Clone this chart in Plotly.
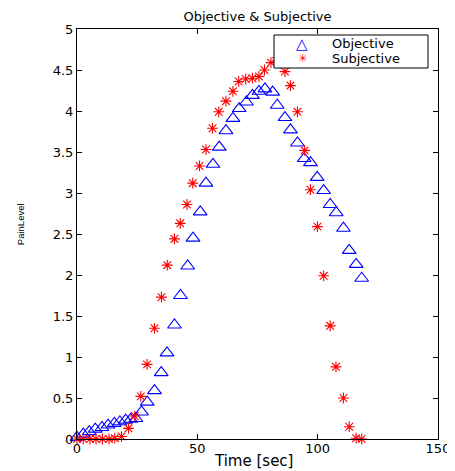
import plotly.graph_objects as go

# Objective series (time [sec], pain level)
obj_time = [0, 2.6, 5.1, 7.6, 10.4, 12.9, 15.5, 17.8, 20.2, 22.3, 24.5, 26.8,
            29.2, 32.2, 35.0, 37.4, 40.5, 43.0, 46.0, 48.2, 51.2, 53.6, 56.5,
            59.1, 61.9, 64.8, 67.4, 70.4, 72.9, 75.6, 78.1, 81.3, 83.2, 86.4,
            88.7, 91.6, 94.4, 97.0, 99.8, 102.5, 105.2, 107.7, 110.7, 113.1,
            116.0, 118.3]
obj_level = [0.02, 0.06, 0.09, 0.12, 0.14, 0.17, 0.19, 0.21, 0.23, 0.24, 0.25,
             0.33, 0.45, 0.59, 0.81, 1.05, 1.39, 1.75, 2.11, 2.45, 2.77, 3.12,
             3.35, 3.56, 3.76, 3.91, 4.03, 4.11, 4.19, 4.24, 4.27, 4.23, 4.07,
             3.92, 3.77, 3.61, 3.42, 3.37, 3.19, 3.03, 2.86, 2.76, 2.57, 2.30,
             2.13, 1.96]

# Subjective series
subj_time = [0, 2.6, 5.4, 7.9, 10.6, 13.3, 15.7, 18.5, 21.4, 24.0, 26.5, 29.1,
             32.2, 35.1, 37.5, 40.5, 42.9, 45.7, 48.1, 50.9, 53.6, 56.3, 58.9,
             61.9, 64.8, 67.2, 70.1, 72.9, 75.6, 77.9, 80.6, 83.3, 86.4, 88.7,
             91.6, 94.6, 97.0, 99.9, 102.5, 105.2, 107.6, 110.7, 113.1, 116.0,
             118.3]
subj_level = [0, 0, 0, 0, 0, 0, 0.01, 0.03, 0.13, 0.28, 0.52, 0.91, 1.35, 1.73,
              2.12, 2.44, 2.63, 2.86, 3.12, 3.33, 3.53, 3.79, 3.99, 4.12, 4.24,
              4.36, 4.39, 4.40, 4.42, 4.50, 4.59, 4.65, 4.48, 4.31, 3.99, 3.52,
              3.04, 2.59, 1.99, 1.38, 0.88, 0.50, 0.15, 0.01, 0.0]

x_ticks = [0, 50, 100, 150]
y_ticks = [0, 0.5, 1, 1.5, 2, 2.5, 3, 3.5, 4, 4.5, 5]
y_tick_labels = ["0", "0.5", "1", "1.5", "2", "2.5", "3", "3.5", "4", "4.5", "5"]
series_names = ["Objective", "Subjective"]

FONT = "DejaVu Sans"
OBJ_COLOR = "#0000FF"
SUBJ_COLOR = "#FF0000"

# page body has an 8px margin, so the figure is sized to the visible area
W, H = 447, 463
ML, MR, MT, MB = 69, 17, 21, 32
PW = W - ML - MR
PH = H - MT - MB

fig = go.Figure()
fig.add_trace(go.Scatter(
    x=obj_time, y=obj_level, mode="markers", name=series_names[0],
    marker=dict(symbol="triangle-up-open", size=12, color=OBJ_COLOR,
                line=dict(color=OBJ_COLOR, width=1.1)),
    cliponaxis=False, showlegend=False,
))
fig.add_trace(go.Scatter(
    x=subj_time, y=subj_level, mode="markers", name=series_names[1],
    marker=dict(symbol="asterisk-open", size=9, color=SUBJ_COLOR,
                line=dict(color=SUBJ_COLOR, width=1.1)),
    cliponaxis=False, showlegend=False,
))

axis_common = dict(
    showgrid=False, zeroline=False, showline=True, linecolor="black",
    linewidth=1, mirror="ticks", ticks="inside", ticklen=5, tickwidth=1,
    tickcolor="black", tickfont=dict(family=FONT, size=13, color="black"),
    automargin=False,
)

# legend box (MATLAB style, drawn in paper coordinates)
lg_x0, lg_x1 = 197 / PW, 351 / PW
lg_y1, lg_y0 = 1 - 6 / PH, 1 - 39 / PH
row_y = [1 - 14.5 / PH, 1 - 30 / PH]
sym_x = 225 / PW
txt_x = 253 / PW

annotations = [
    dict(text="Time [sec]", xref="paper", yref="paper",
         x=0.49, y=-22 / PH, xanchor="center", yanchor="middle",
         showarrow=False, font=dict(family=FONT, size=15, color="black")),
    dict(text="PainLevel", xref="paper", yref="paper",
         x=-57 / PW, y=0.524, xanchor="center", yanchor="middle",
         textangle=-90, showarrow=False,
         font=dict(family="Liberation Sans", size=9.5, color="black")),
    dict(text="\u25B3", xref="paper", yref="paper", x=sym_x, y=row_y[0],
         xanchor="center", yanchor="middle", showarrow=False,
         font=dict(family=FONT, size=15, color=OBJ_COLOR)),
    dict(text="\u2733", xref="paper", yref="paper", x=sym_x, y=row_y[1],
         xanchor="center", yanchor="middle", showarrow=False,
         font=dict(family=FONT, size=11, color=SUBJ_COLOR)),
    dict(text=series_names[0], xref="paper", yref="paper", x=txt_x,
         y=row_y[0], xanchor="left", yanchor="middle", showarrow=False,
         font=dict(family=FONT, size=13, color="black")),
    dict(text=series_names[1], xref="paper", yref="paper", x=txt_x,
         y=row_y[1], xanchor="left", yanchor="middle", showarrow=False,
         font=dict(family=FONT, size=13, color="black")),
]

fig.update_layout(
    width=W, height=H,
    paper_bgcolor="white", plot_bgcolor="white",
    margin=dict(l=ML, r=MR, t=MT, b=MB, autoexpand=False),
    title=dict(text="Objective & Subjective", x=0.5, xref="paper",
               y=1 - 8.5 / H, yanchor="middle", xanchor="center",
               font=dict(family=FONT, size=13, color="black")),
    xaxis=dict(range=[0, 150], tickvals=x_ticks, ticklabelstandoff=-3,
               **axis_common),
    yaxis=dict(range=[0, 5], tickvals=y_ticks, ticktext=y_tick_labels,
               **axis_common),
    showlegend=False,
    shapes=[dict(type="rect", xref="paper", yref="paper",
                 x0=lg_x0, x1=lg_x1, y0=lg_y0, y1=lg_y1,
                 line=dict(color="black", width=1), fillcolor="white",
                 layer="above")],
    annotations=annotations,
)

fig.write_html("out.html")
